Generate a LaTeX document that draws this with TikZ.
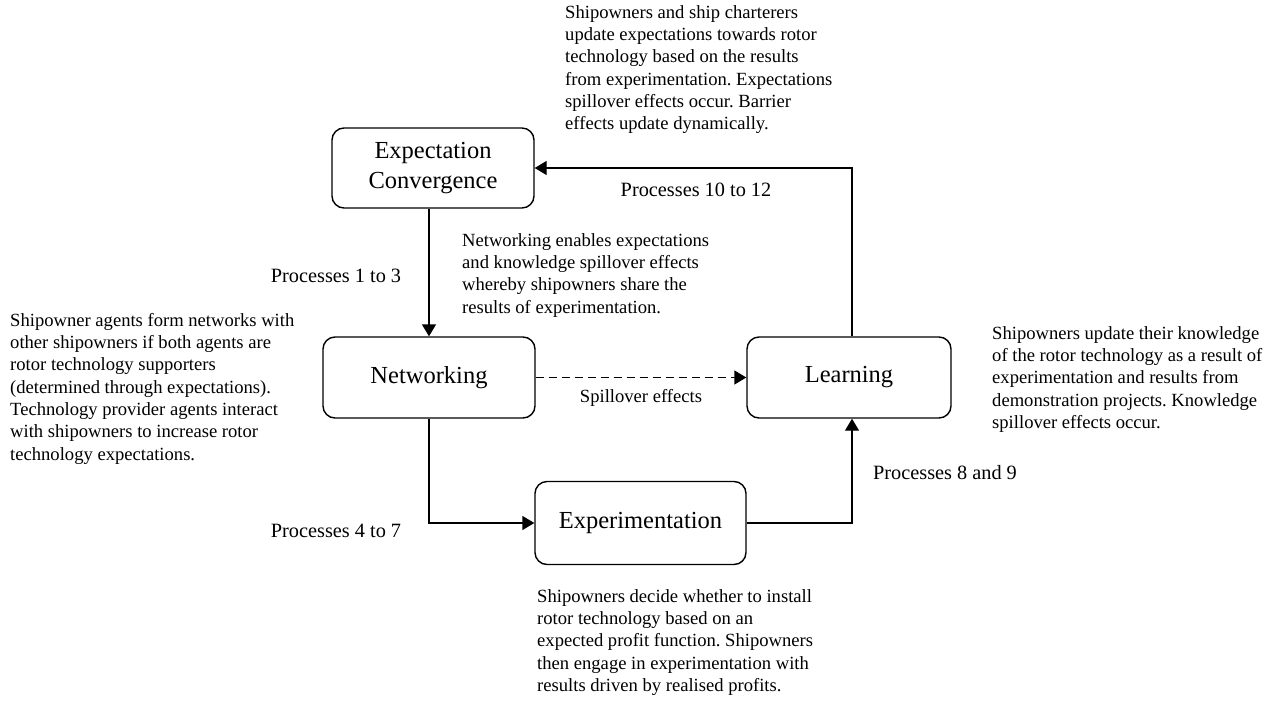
\documentclass[tikz,border=0pt]{standalone}
\usepackage{fontspec}
\setmainfont{Liberation Serif}
\usetikzlibrary{arrows.meta}
\begin{document}
\frenchspacing
\begin{tikzpicture}[x=1pt,y=-1pt,
  box/.style={draw, line width=1.4pt, rounded corners=12pt, align=center,
    font=\fontsize{24.5}{30}\selectfont, inner sep=0},
  conn/.style={line width=1.4pt, -{Triangle[width=14pt,length=12pt]}},
  desc/.style={font=\fontsize{18.6}{22.3}\selectfont, align=left, anchor=north west, inner sep=0},
  proc/.style={font=\fontsize{20.3}{24}\selectfont, inner sep=0}]
\useasboundingbox (0,0) rectangle (1279,704);
\node[box, minimum width=202pt, minimum height=80pt] (ec) at (433,168) {Expectation\\Convergence};
\node[box, minimum width=212pt, minimum height=81pt] (nw) at (429,377.5) {Networking};
\node[box, minimum width=204pt, minimum height=81pt] (le) at (849,377.5) {Learning};
\node[box, minimum width=211pt, minimum height=83pt] (ex) at (640.5,523) {Experimentation};
\coordinate (rx) at (852,0);
\draw[conn] (nw.north |- ec.south) -- (nw.north);
\draw[conn, dash pattern=on 8pt off 5pt] (nw.east) -- (le.west);
\draw[conn] (nw.south) |- (ex.west);
\draw[conn] (ex.east) -| (le.south -| rx);
\draw[conn] (le.north -| rx) |- (ec.east);
\node[proc] (p1) at (336,276) {Processes 1 to 3};
\node[proc] (p2) at (336,531) {Processes 4 to 7};
\node[proc] (p3) at (945,473) {Processes 8 and 9};
\node[proc] (p4) at (696,190) {Processes 10 to 12};
\node[desc, anchor=center] (sp) at (641,398) {Spillover effects};
\node[desc] (dtop) at (565,5) {Shipowners and ship charterers\\update expectations towards rotor\\technology based on the results\\from experimentation. Expectations\\spillover effects occur. Barrier\\effects update dynamically.};
\node[desc] (dleft) at (10,313) {Shipowner agents form networks with\\other shipowners if both agents are\\rotor technology supporters\\(determined through expectations).\\Technology provider agents interact\\with shipowners to increase rotor\\technology expectations.};
\node[desc] (dright) at (992,326) {Shipowners update their knowledge\\of the rotor technology as a result of\\experimentation and results from\\demonstration projects. Knowledge\\spillover effects occur.};
\node[desc] (dnw) at (462,233) {Networking enables expectations\\and knowledge spillover effects\\whereby shipowners share the\\results of experimentation.};
\node[desc] (dex) at (537,589) {Shipowners decide whether to install\\rotor technology based on an\\expected profit function. Shipowners\\then engage in experimentation with\\results driven by realised profits.};
\end{tikzpicture}
\end{document}
